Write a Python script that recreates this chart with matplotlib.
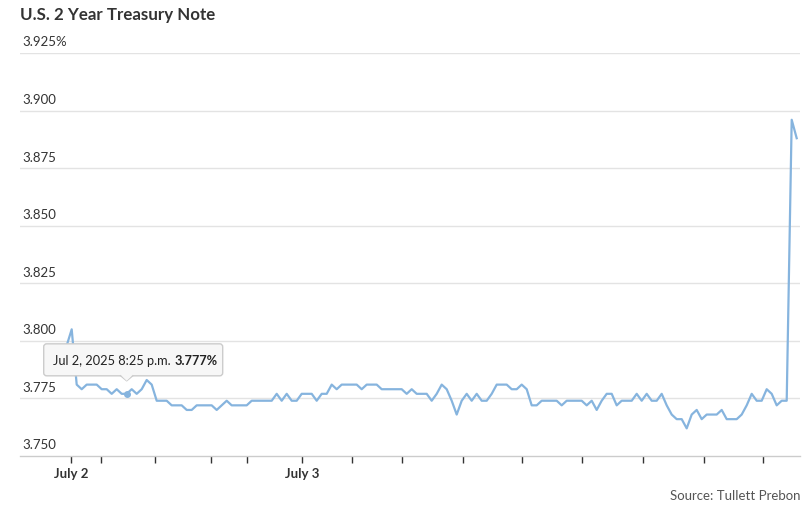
import matplotlib
matplotlib.use("Agg")
import matplotlib.pyplot as plt
from matplotlib.patches import FancyBboxPatch, Polygon
from matplotlib.lines import Line2D

plt.rcParams['font.family'] = ['Lato', 'DejaVu Sans']

title = "U.S. 2 Year Treasury Note"
source = "Source: Tullett Prebon"

# 2-year yield, sampled at regular intervals (sample index)
yield_pct = [
    3.798, 3.805, 3.781, 3.779, 3.781, 3.781, 3.781, 3.779, 3.779, 3.777,
    3.779, 3.777, 3.777, 3.779, 3.777, 3.779, 3.783, 3.781, 3.774, 3.774,
    3.774, 3.772, 3.772, 3.772, 3.770, 3.770, 3.772, 3.772, 3.772, 3.772,
    3.770, 3.772, 3.774, 3.772, 3.772, 3.772, 3.772, 3.774, 3.774, 3.774,
    3.774, 3.774, 3.777, 3.774, 3.777, 3.774, 3.774, 3.777, 3.777, 3.777,
    3.774, 3.777, 3.777, 3.781, 3.779, 3.781, 3.781, 3.781, 3.781, 3.779,
    3.781, 3.781, 3.781, 3.779, 3.779, 3.779, 3.779, 3.779, 3.777, 3.779,
    3.777, 3.777, 3.777, 3.774, 3.777, 3.781, 3.779, 3.774, 3.768, 3.774,
    3.777, 3.774, 3.777, 3.774, 3.774, 3.777, 3.781, 3.781, 3.781, 3.779,
    3.779, 3.781, 3.779, 3.772, 3.772, 3.774, 3.774, 3.774, 3.774, 3.772,
    3.774, 3.774, 3.774, 3.774, 3.772, 3.774, 3.770, 3.774, 3.777, 3.777,
    3.772, 3.774, 3.774, 3.774, 3.777, 3.774, 3.777, 3.774, 3.774, 3.777,
    3.772, 3.768, 3.766, 3.766, 3.762, 3.768, 3.770, 3.766, 3.768, 3.768,
    3.768, 3.770, 3.766, 3.766, 3.766, 3.768, 3.772, 3.777, 3.774, 3.774,
    3.779, 3.777, 3.772, 3.774, 3.774, 3.896, 3.888,
]
sample_idx = list(range(len(yield_pct)))

y_ticks = [3.750, 3.775, 3.800, 3.825, 3.850, 3.875, 3.900, 3.925]
y_labels = ["3.750", "3.775", "3.800", "3.825", "3.850", "3.875", "3.900", "3.925%"]

x_ticks = [0.9, 6.9, 17.7, 28.9, 36.1, 47.1, 57.1, 67.1, 79.3, 91.1, 103.1, 115.3, 127.5, 139.3]
x_labels = ["July 2", "", "", "", "", "July 3", "", "", "", "", "", "", "", ""]

tooltip_idx = 12
tooltip_date = "Jul 2, 2025 8:25 p.m."
tooltip_val = "3.777%"

W, H = 808, 510
fig = plt.figure(figsize=(W / 100, H / 100), dpi=100)
ax = fig.add_axes([20 / W, 53 / H, 780 / W, 403 / H])

line_color = "#86b4de"
ax.plot(sample_idx, yield_pct, color=line_color, lw=1.6, solid_joinstyle="round", zorder=3, clip_on=False)

ax.set_ylim(3.750, 3.925)
ax.set_xlim(-9.34, 146.66)

for s in ax.spines.values():
    s.set_visible(False)
ax.spines['bottom'].set_visible(True)
ax.spines['bottom'].set_color("#cccccc")
ax.spines['bottom'].set_linewidth(1)

for yt in y_ticks[1:]:
    ax.axhline(yt, color="#e3e3e3", lw=1, zorder=1)

ax.set_yticks([])
for yt, lab in zip(y_ticks, y_labels):
    ax.annotate(lab, xy=(0, yt), xycoords=("axes fraction", "data"),
                xytext=(2, 4), textcoords="offset points", ha="left", va="bottom",
                fontsize=9.5, color="#333333", annotation_clip=False)

ax.set_xticks(x_ticks)
ax.set_xticklabels(x_labels, fontsize=9.5, fontweight="bold", color="#333333")
ax.tick_params(axis="x", length=5, width=1, color="#333333", pad=3)

fig.text(20 / W, 1 - 15 / H, title, fontsize=12.2, fontweight="bold", color="#333333",
         ha="left", va="center")
fig.text(800 / W, 1 - 496 / H, source, fontsize=9.5, color="#555555", ha="right", va="center")

# tooltip
px = sample_idx[tooltip_idx]
py = yield_pct[tooltip_idx]
ax.plot([px], [py], 'o', color=line_color, ms=4, zorder=4)
disp = ax.transData.transform((px, py))
bx0, by0 = -83, 18
bw, bh = 179, 32
boxpatch = FancyBboxPatch((disp[0] + bx0, disp[1] + by0), bw, bh,
                          boxstyle="round,pad=0,rounding_size=3",
                          transform=None, facecolor="#f7f7f7", edgecolor="#cccccc",
                          lw=1, zorder=10)
fig.patches.append(boxpatch)
tri = Polygon([(disp[0], disp[1] + 13), (disp[0] - 6, disp[1] + 19), (disp[0] + 6, disp[1] + 19)],
              closed=True, transform=None, facecolor="#f7f7f7", edgecolor="none", zorder=11)
fig.patches.append(tri)
fig.lines.append(Line2D([disp[0] - 6, disp[0], disp[0] + 6], [disp[1] + 18, disp[1] + 13, disp[1] + 18],
                        transform=None, color="#cccccc", lw=1, zorder=11))
t1 = fig.text((disp[0] + bx0 + 9) / W, (disp[1] + by0 + bh / 2) / H, tooltip_date,
              fontsize=9.2, color="#222222", ha="left", va="center", zorder=12)
fig.canvas.draw()
ext = t1.get_window_extent(renderer=fig.canvas.get_renderer())
fig.text((ext.x1 + 4) / W, (disp[1] + by0 + bh / 2) / H, tooltip_val,
         fontsize=9.2, fontweight="bold", color="#222222", ha="left", va="center", zorder=12)

fig.savefig("out.png", dpi=100)
